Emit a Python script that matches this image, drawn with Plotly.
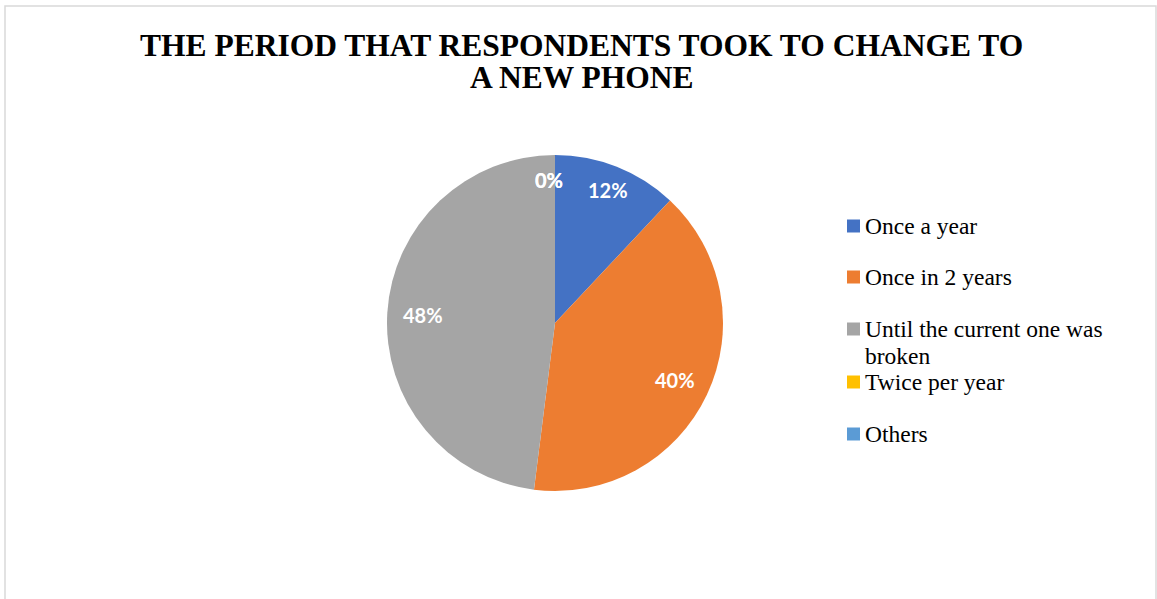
import math
import plotly.graph_objects as go

categories = ["Once a year", "Once in 2 years", "Until the current one was broken",
              "Twice per year", "Others"]
legend_labels = ["Once a year", "Once in 2 years", "Until the current one was<br>broken",
                 "Twice per year", "Others"]
values = [12, 40, 48, 0, 0]
colors = ["#4472C4", "#ED7D31", "#A5A5A5", "#FFC000", "#5B9BD5"]
title_lines = ["THE PERIOD THAT RESPONDENTS TOOK TO CHANGE TO", "A NEW PHONE"]

W, H = 1157, 599
cx, cy, r = 555, 323, 168

def px(x):
    return x / W

def py(y):
    return 1 - y / H

fig = go.Figure()
fig.add_trace(go.Pie(
    labels=categories,
    values=values,
    marker=dict(colors=colors, line=dict(width=0)),
    sort=False,
    direction="clockwise",
    rotation=0,
    textinfo="none",
    domain=dict(x=[px(cx - r), px(cx + r)], y=[py(cy + r), py(cy - r)]),
    showlegend=False,
    hoverinfo="label+percent",
))

annotations = []
shapes = []

# Data labels placed at each slice's mid-angle (best-fit style)
total = sum(values)
cum = 0.0
for v in values:
    frac = v / total
    mid = (cum + frac / 2) * 2 * math.pi
    cum += frac
    rr = r * (0.85 if frac < 0.2 else 0.79)
    lx = cx + rr * math.sin(mid)
    ly = cy - rr * math.cos(mid)
    if v == 0:
        lx -= 6
    annotations.append(dict(
        text="<b>%d%%</b>" % round(frac * 100), x=px(lx), y=py(ly),
        xref="paper", yref="paper", xanchor="center", yanchor="middle",
        showarrow=False, font=dict(family="Lato", size=20, color="white"),
    ))

# Title
for i, line in enumerate(title_lines):
    annotations.append(dict(
        text="<b>" + line + "</b>", x=px(581), y=py(45 + 32 * i),
        xref="paper", yref="paper", xanchor="center", yanchor="middle",
        showarrow=False, font=dict(family="Liberation Serif", size=31.5, color="black"),
    ))

# Legend (manual)
legend_y = [226, 277, 329, 382, 434]
for lab, col, yy in zip(legend_labels, colors, legend_y):
    shapes.append(dict(type="rect", xref="paper", yref="paper",
                       x0=px(847), x1=px(860), y0=py(yy + 6.5), y1=py(yy - 6.5),
                       fillcolor=col, line=dict(width=0)))
    for k, part in enumerate(lab.split("<br>")):
        annotations.append(dict(
            text=part, x=px(863), y=py(yy + 27 * k), xref="paper", yref="paper",
            xanchor="left", yanchor="middle", align="left", showarrow=False,
            font=dict(family="Liberation Serif", size=23.5, color="black"),
        ))

# Chart border
shapes.append(dict(type="rect", xref="paper", yref="paper",
                   x0=px(5), x1=px(1156), y0=py(610), y1=py(6),
                   line=dict(color="#D9D9D9", width=1.5), fillcolor="rgba(0,0,0,0)"))

fig.update_layout(
    width=W, height=H,
    margin=dict(l=0, r=0, t=0, b=0),
    paper_bgcolor="white", plot_bgcolor="white",
    annotations=annotations, shapes=shapes,
    showlegend=False,
)

fig.write_html("out.html", config={"displayModeBar": False},
               post_script="document.body.style.margin='0';")
